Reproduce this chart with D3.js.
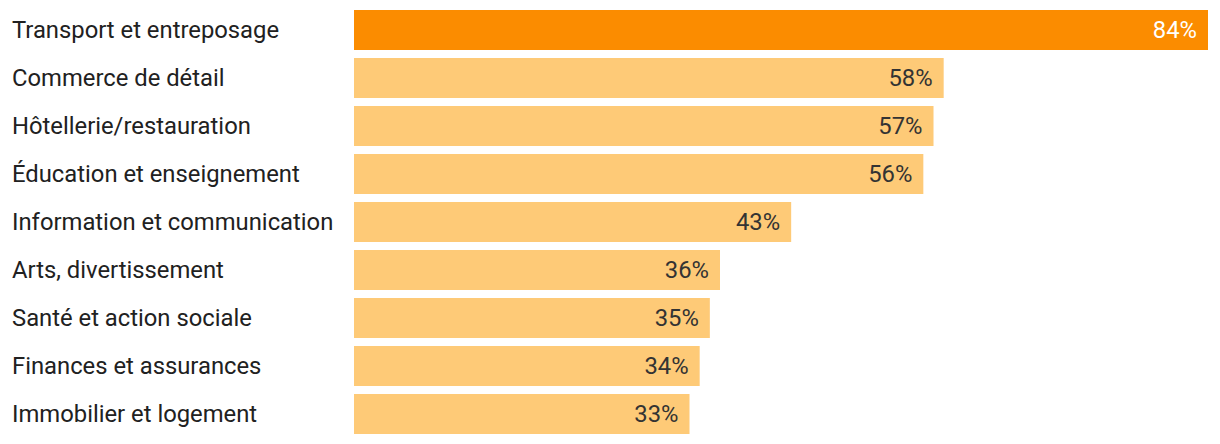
<!DOCTYPE html>
<html><head><meta charset="utf-8">
<script src="https://cdn.jsdelivr.net/npm/d3@7"></script>
<style>body{margin:0;background:#fff}</style>
</head><body>
<script>
const categories = ["Transport et entreposage","Commerce de détail","Hôtellerie/restauration","Éducation et enseignement","Information et communication","Arts, divertissement","Santé et action sociale","Finances et assurances","Immobilier et logement"];
const values = [84,58,57,56,43,36,35,34,33];
const highlight = [true,false,false,false,false,false,false,false,false];

const W = 1220, H = 444;
const svg = d3.select("body").append("svg").attr("width", W).attr("height", H)
  .style("font-family", "Roboto");
const x = d3.scaleLinear().domain([0, 84]).range([354, 1208]);
const y = d3.scaleBand().domain(categories).range([6, 438]).paddingInner(8/48).paddingOuter(4/48);

const g = svg.selectAll("g.row").data(categories).join("g");
g.append("rect")
  .attr("x", x(0)).attr("y", d => y(d))
  .attr("width", (d,i) => x(values[i]) - x(0)).attr("height", y.bandwidth())
  .attr("fill", (d,i) => highlight[i] ? "#FB8C00" : "#FECA77");
g.append("text")
  .attr("x", 12).attr("y", d => y(d) + y.bandwidth()/2)
  .attr("dy", "0.35em").attr("font-size", 23.8).attr("fill", "#212121")
  .text(d => d);
g.append("text")
  .attr("x", (d,i) => x(values[i]) - 11).attr("y", d => y(d) + y.bandwidth()/2)
  .attr("dy", "0.35em").attr("text-anchor", "end").attr("font-size", 23.8)
  .attr("fill", (d,i) => highlight[i] ? "#fff" : "#333")
  .text((d,i) => values[i] + "%");
</script>
</body></html>
